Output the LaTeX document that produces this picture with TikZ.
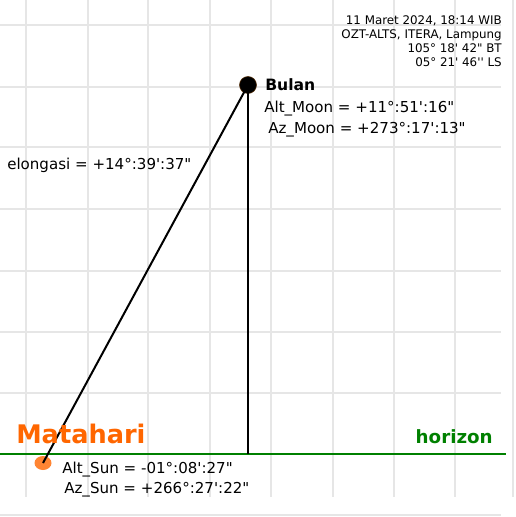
\documentclass[tikz,border=0pt]{standalone}
\usepackage{fontspec}
\setmainfont{DejaVu Sans}[Ligatures=TeXOff]
\usetikzlibrary{shapes.geometric}
\definecolor{gridgray}{HTML}{E6E6E6}
\definecolor{sunorange}{HTML}{FF6600}
\definecolor{sundot}{HTML}{FF8533}
\definecolor{horizgreen}{HTML}{008000}
\tikzset{
  gridline/.style={draw=gridgray, line width=1.5pt},
  conn/.style={draw=black, line width=1.5pt},
  lbl/.style={anchor=base west, inner sep=0pt, font=\fontsize{11.3}{13}\selectfont},
}
\begin{document}
\begin{tikzpicture}[x=0.75pt,y=-0.75pt]
\useasboundingbox (0,0) rectangle (515,517);
% grid
\foreach \gx in {26,88,148,210,271,333,394,455,513}
  \draw[gridline] (\gx,0) -- (\gx,497);
\foreach \gy in {25,87,147,209,271,332,393,454,515}
  \draw[gridline] (0,\gy) -- (501,\gy);
% horizon
\coordinate (hl) at (0,454);
\coordinate (hr) at (506,454);
\draw[draw=horizgreen, line width=1.5pt] (hl) -- (hr);
% bodies
\node[ellipse, fill=sundot, minimum width=17*0.75pt, minimum height=14*0.75pt, inner sep=0pt] (sun) at (43,463) {};
\node[circle, fill=black, draw=black!70!orange, line width=0.4pt, minimum size=17*0.75pt, inner sep=0pt] (moon) at (248,85) {};
\coordinate (foot) at (248,454);
\draw[conn] (moon.center) -- (foot);
\draw[conn] (moon.center) -- (sun.center);
% labels
\node[anchor=north east, inner sep=0pt, align=right, font=\fontsize{8.9}{10.5}\selectfont] (info) at (502,15)
  {11 Maret 2024, 18:14 WIB\\OZT-ALTS, ITERA, Lampung\\105° 18' 42" BT\\05° 21' 46'' LS};
\node[lbl, font=\fontsize{11.7}{13}\selectfont\bfseries] (bulan) at (265,90) {Bulan};
\node[lbl] (altmoon) at (264,112.7) {Alt\_Moon = +11°:51':16"};
\node[lbl] (azmoon) at (268,133) {Az\_Moon = +273°:17':13"};
\node[lbl] (elong) at (7,169) {elongasi = +14°:39':37"};
\node[lbl, text=sunorange, font=\fontsize{19.2}{22}\selectfont\bfseries] (matahari) at (16,443) {Matahari};
\node[anchor=base east, inner sep=0pt, text=horizgreen, font=\fontsize{13.7}{15}\selectfont\bfseries] (horizon) at (493,443) {horizon};
\node[lbl] (altsun) at (62,473) {Alt\_Sun = -01°:08':27"};
\node[lbl] (azsun) at (64,493) {Az\_Sun = +266°:27':22"};
\end{tikzpicture}
\end{document}
